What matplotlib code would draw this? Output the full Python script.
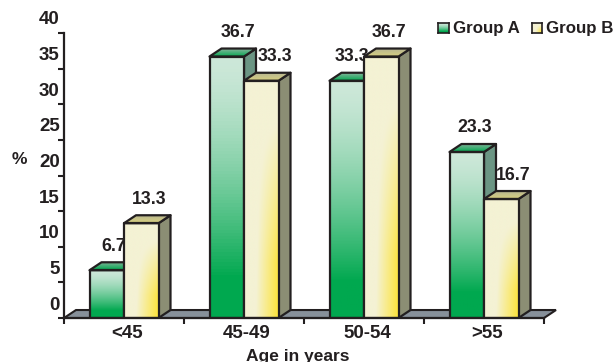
import matplotlib
matplotlib.use("Agg")
import matplotlib.pyplot as plt
import numpy as np
from matplotlib.colors import to_rgb
from matplotlib.patches import Polygon
from matplotlib.transforms import ScaledTranslation

plt.rcParams['font.family'] = ['Liberation Sans', 'DejaVu Sans']
plt.rcParams['font.weight'] = 'bold'

# data
ages = ['<45', '45-49', '50-54', '>55']
group_a = [6.7, 36.7, 33.3, 23.3]
group_b = [13.3, 33.3, 36.7, 16.7]
y_ticks = [0, 5, 10, 15, 20, 25, 30, 35, 40]

# horizontal nudge of the value labels, px
nudge_a = [7, 11, 5, 8]
nudge_b = [8, 14, 8, 12]

INK = '#231f20'
W = 615
H = 362
BAR = 0.2875   # bar width
DX = 0.1       # 3d depth, x units
DY = 1.12      # 3d depth, y units


def mix(c1, c2, t):
    c1 = np.array(to_rgb(c1))
    c2 = np.array(to_rgb(c2))
    return c1 + (c2 - c1) * np.clip(t, 0, 1)[..., None]


def green_front(n=80):
    # pale at the top, solid green in the lower part
    v = np.linspace(0, 1, n)[:, None]
    return mix('#cde8d9', '#00a84f', (v / 0.85) ** 1.5)


def yellow_front(n=80):
    # pale, turning yellow towards the lower right corner
    v, u = np.mgrid[0:1:n * 1j, 0:1:n * 1j]
    t = (u - 0.4) * 1.5 * np.clip((v - 0.1) * 1.5, 0, 1) + (v - 0.6) * 0.25
    return mix('#f4f2d4', '#fde336', t)


def draw_bar(ax, x, val, front, top1, top2, side, z):
    x1 = x + BAR
    # side face
    ax.add_patch(Polygon([(x1, 0), (x1 + DX, DY), (x1 + DX, val + DY), (x1, val)],
                         fc=side, ec=INK, lw=1.6, zorder=z, joinstyle='round'))
    # top face with a small vertical gradient
    top = Polygon([(x, val), (x + DX, val + DY), (x1 + DX, val + DY), (x1, val)],
                  fc='none', ec=INK, lw=1.6, zorder=z + 0.2, joinstyle='round')
    ax.add_patch(top)
    g = mix(top2, top1, np.linspace(0, 1, 20)[:, None])
    im = ax.imshow(g, extent=(x, x1 + DX, val, val + DY), aspect='auto', zorder=z + 0.1)
    im.set_clip_path(top)
    # front face
    ax.imshow(front, extent=(x, x1, 0, val), aspect='auto', zorder=z + 0.1)
    ax.add_patch(Polygon([(x, 0), (x, val), (x1, val), (x1, 0)], fc='none', ec=INK,
                         lw=1.6, zorder=z + 0.3, joinstyle='round'))


fig = plt.figure(figsize=(W / 100, H / 100), dpi=100)
ax = fig.add_axes([64 / W, (H - 318) / H, 480 / W, 285 / H])

# floor
ax.add_patch(Polygon([(0, 0), (DX, DY), (4 + DX, DY), (4, 0)], fc='#87909a', ec=INK,
                     lw=1.5, zorder=1, clip_on=False))

for i in range(len(ages)):
    xa = i + 0.5 - BAR
    xb = i + 0.5
    z = 2 + i * 3
    draw_bar(ax, xa, group_a[i], green_front(), '#00a84f', '#7fb398', '#6b9583', z)
    ax.annotate(str(group_a[i]), (xa + BAR / 2, group_a[i]), xytext=(nudge_a[i] * 0.72, 24 * 0.72),
                textcoords='offset points', ha='center', va='center', fontsize=12.8,
                color=INK, zorder=z + 0.5, annotation_clip=False)
    draw_bar(ax, xb, group_b[i], yellow_front(), '#d8cf7e', '#b9b892', '#8b8e74', z + 1)
    ax.annotate(str(group_b[i]), (xb + BAR / 2, group_b[i]), xytext=(nudge_b[i] * 0.72, 24 * 0.72),
                textcoords='offset points', ha='center', va='center', fontsize=12.8,
                color=INK, zorder=z + 1.5, annotation_clip=False)

ax.set_xlim(0, 4)
ax.set_ylim(0, 40)

# axes
for s in ['top', 'right']:
    ax.spines[s].set_visible(False)
for s in ['left', 'bottom']:
    ax.spines[s].set_linewidth(1.6)
    ax.spines[s].set_color(INK)
    ax.spines[s].set_zorder(30)

ax.set_xticks(range(5))
ax.set_xticklabels([])
ax.set_xticks(np.arange(len(ages)) + 0.5, ages, minor=True)
ax.tick_params(axis='x', which='major', length=4.5, width=1.5, color=INK)
ax.tick_params(axis='x', which='minor', length=0, pad=5, labelsize=13.5, labelcolor=INK)
ax.set_yticks(y_ticks)
ax.tick_params(axis='y', length=4.5, width=1.5, color=INK, pad=0, labelsize=13.5, labelcolor=INK)

# the y labels sit above their ticks, x labels slightly to the right
shift_y = ScaledTranslation(2 * 0.72 / 72, 15 * 0.72 / 72, fig.dpi_scale_trans)
for t in ax.get_yticklabels():
    t.set_transform(t.get_transform() + shift_y)
shift_x = ScaledTranslation(3 * 0.72 / 72, 0, fig.dpi_scale_trans)
for t in ax.get_xticklabels(minor=True):
    t.set_transform(t.get_transform() + shift_x)

fig.text(19 / W, 1 - 160 / H, '%', fontsize=12.5, color=INK, ha='center', va='center')
fig.text(298 / W, 1 - 356 / H, 'Age in years', fontsize=12.5, color=INK, ha='center', va='center')

# legend
for x0, w, img, name, tx in [(438, 11, green_front(20), 'Group A', 453),
                             (532, 10, yellow_front(20), 'Group B', 546)]:
    sw = fig.add_axes([x0 / W, 1 - 33 / H, w / W, 10 / H])
    sw.imshow(img, aspect='auto')
    sw.set_xticks([])
    sw.set_yticks([])
    for s in sw.spines.values():
        s.set_linewidth(1.2)
        s.set_color(INK)
    fig.text(tx / W, 1 - 28 / H, name, fontsize=12.2, color=INK, ha='left', va='center')

fig.savefig('out.png', dpi=100)
